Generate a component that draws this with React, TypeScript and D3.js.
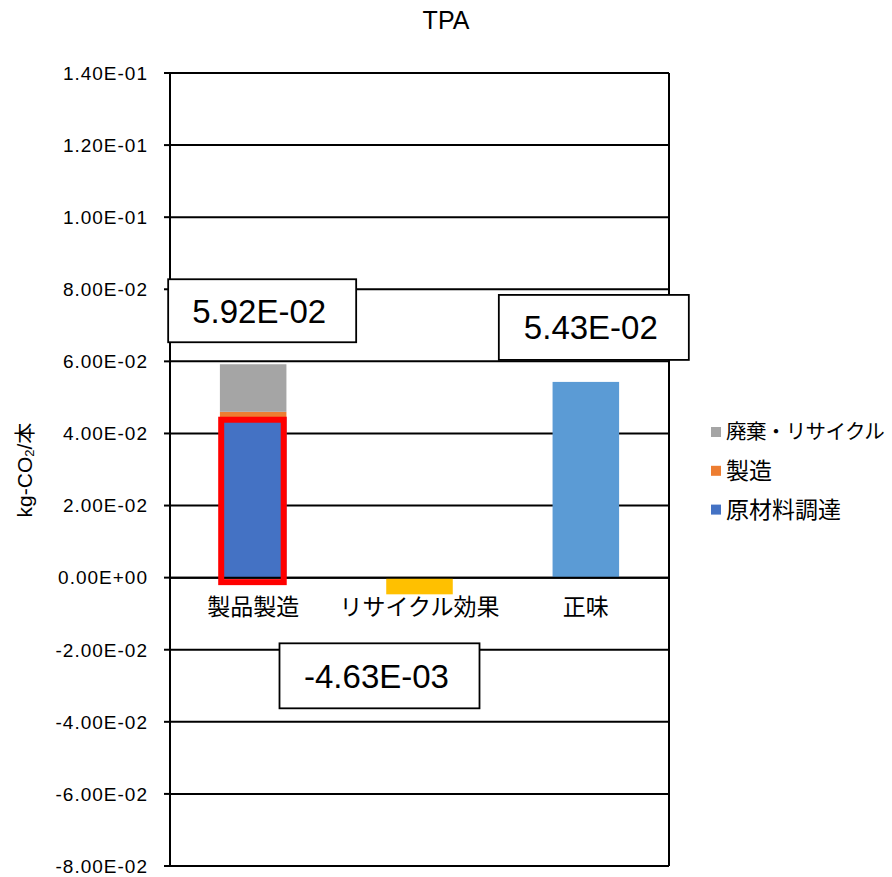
import React from "react";
import * as d3 from "d3";

// Categories along the x axis
const categories = ["製品製造", "リサイクル効果", "正味"];

// Stacked components of 製品製造 (kg-CO2 per unit)
const stackKeys = ["原材料調達", "製造", "廃棄・リサイクル"];
const rawMaterial = [0.0445, 0, 0];
const manufacturing = [0.0015, 0, 0];
const disposal = [0.0132, 0, 0];

// Single-value bars
const recyclingEffect = [0, -0.00463, 0];
const netValue = [0, 0, 0.0543];

// Totals shown in the callout boxes
const labelValues = [0.0592, -0.00463, 0.0543];

// Axis ticks
const yTicks = [-0.08, -0.06, -0.04, -0.02, 0, 0.02, 0.04, 0.06, 0.08, 0.1, 0.12, 0.14];

const stackColors: Record<string, string> = {
  原材料調達: "#4472C4",
  製造: "#ED7D31",
  "廃棄・リサイクル": "#A5A5A5",
};
const recycleColor = "#FFC000";
const netColor = "#5B9BD5";

const W = 892;
const H = 877;
const plot = { left: 170, right: 669, top: 73, bottom: 866 };

const FONT = "'Liberation Sans', Arial, 'Noto Sans CJK JP', sans-serif";

function sci(v: number): string {
  if (v === 0) return "0.00E+00";
  const [m, e] = v.toExponential(2).split("e");
  const n = parseInt(e, 10);
  const sign = n < 0 ? "-" : "+";
  const abs = Math.abs(n).toString().padStart(2, "0");
  return `${m}E${sign}${abs}`;
}

export default function App() {
  const x = d3.scaleBand<string>().domain(categories).range([plot.left, plot.right]).padding(0);
  const y = d3.scaleLinear().domain([-0.08, 0.14]).range([plot.bottom, plot.top]);
  const bw = x.bandwidth() * 0.4;
  const barX = (c: string) => (x(c) as number) + (x.bandwidth() - bw) / 2;
  const mid = (c: string) => (x(c) as number) + x.bandwidth() / 2;

  const series = [rawMaterial, manufacturing, disposal];
  const stackData = categories.map((c, i) => {
    const row: Record<string, number | string> = { cat: c };
    stackKeys.forEach((k, j) => (row[k] = series[j][i]));
    return row;
  });
  const stacked = d3.stack<Record<string, number | string>>().keys(stackKeys)(stackData as any);

  // callout box geometry, offset from the bar end it labels
  const boxes = [
    { w: 188, h: 63, dx: 9, dy: -85 },
    { w: 200, h: 65, dx: -40, dy: 49 },
    { w: 190, h: 65, dx: 8, dy: -87 },
  ];

  const legendItems = ["廃棄・リサイクル", "製造", "原材料調達"];

  const firstCat = categories[0];
  const blueTop = y(rawMaterial[0]);
  const zeroY = y(0);

  return (
    <svg
      width={W}
      height={H}
      style={{ position: "absolute", left: 0, top: 0, background: "#fff" }}
      fontFamily={FONT}
    >
      <rect x={0} y={0} width={W} height={H} fill="#fff" />
      <text x={446} y={29} textAnchor="middle" fontSize={25} fill="#000">
        TPA
      </text>

      {/* gridlines */}
      {yTicks.map((t) => (
        <line key={t} x1={plot.left} x2={plot.right} y1={y(t)} y2={y(t)} stroke="#000" strokeWidth={2} />
      ))}
      {/* frame */}
      <line x1={plot.left} x2={plot.left} y1={plot.top} y2={plot.bottom} stroke="#000" strokeWidth={2} />
      <line x1={plot.right} x2={plot.right} y1={plot.top} y2={plot.bottom} stroke="#000" strokeWidth={2} />
      {yTicks.map((t) => (
        <g key={"t" + t}>
          <line x1={plot.left - 6} x2={plot.left} y1={y(t)} y2={y(t)} stroke="#000" strokeWidth={2} />
          <text x={148} y={y(t)} dy="0.36em" textAnchor="end" fontSize={19} letterSpacing={1} fill="#000">
            {sci(t)}
          </text>
        </g>
      ))}

      {/* stacked bars */}
      {stacked.map((layer) => (
        <g key={layer.key} fill={stackColors[layer.key]}>
          {layer.map((d, i) => {
            const h = y(d[0]) - y(d[1]);
            if (h <= 0) return null;
            return <rect key={i} x={barX(categories[i])} y={y(d[1])} width={bw} height={h} />;
          })}
        </g>
      ))}
      {/* recycling effect */}
      {recyclingEffect.map((v, i) =>
        v !== 0 ? (
          <rect key={"r" + i} x={barX(categories[i])} y={y(Math.max(0, v))} width={bw} height={Math.abs(y(v) - y(0))} fill={recycleColor} />
        ) : null
      )}
      {/* net */}
      {netValue.map((v, i) =>
        v !== 0 ? (
          <rect key={"n" + i} x={barX(categories[i])} y={y(Math.max(0, v))} width={bw} height={Math.abs(y(v) - y(0))} fill={netColor} />
        ) : null
      )}

      <line x1={plot.left} x2={plot.right} y1={zeroY} y2={zeroY} stroke="#000" strokeWidth={2} />

      {/* highlight around raw material segment */}
      <rect
        x={barX(firstCat) + 1.3}
        y={blueTop + 2.5}
        width={bw - 4}
        height={zeroY - blueTop + 2}
        fill="none"
        stroke="#FF0000"
        strokeWidth={6}
      />

      {/* category labels */}
      {categories.map((c) => (
        <text key={c} x={mid(c)} y={615} textAnchor="middle" fontSize={23} fill="#000">
          {c}
        </text>
      ))}

      {/* callout boxes */}
      {labelValues.map((v, i) => {
        const b = boxes[i];
        const cx = mid(categories[i]) + b.dx;
        const top = y(v) + b.dy;
        return (
          <g key={"b" + i}>
            <rect x={cx - b.w / 2} y={top} width={b.w} height={b.h} fill="#fff" stroke="#000" strokeWidth={1.8} />
            <text x={cx - 3} y={top + b.h / 2 + 12} textAnchor="middle" fontSize={33} fill="#000">
              {sci(v)}
            </text>
          </g>
        );
      })}

      {/* legend */}
      {legendItems.map((k, i) => (
        <g key={k} transform={`translate(711, ${432 + i * 38.8})`}>
          <rect x={0} y={-5} width={10} height={10} fill={stackColors[k]} />
          <text
            x={15}
            y={0}
            dy="0.36em"
            fontSize={i === 0 ? 20.5 : 23}
            letterSpacing={i === 0 ? -0.6 : 0}
            fill="#000"
          >
            {k}
          </text>
        </g>
      ))}

      {/* y axis title */}
      <text transform={`translate(32, 470) rotate(-90)`} textAnchor="middle" fontSize={21} fill="#000">
        kg-CO<tspan fontSize={13} dy={2}>2</tspan>
        <tspan dy={-2}>/本</tspan>
      </text>
    </svg>
  );
}
